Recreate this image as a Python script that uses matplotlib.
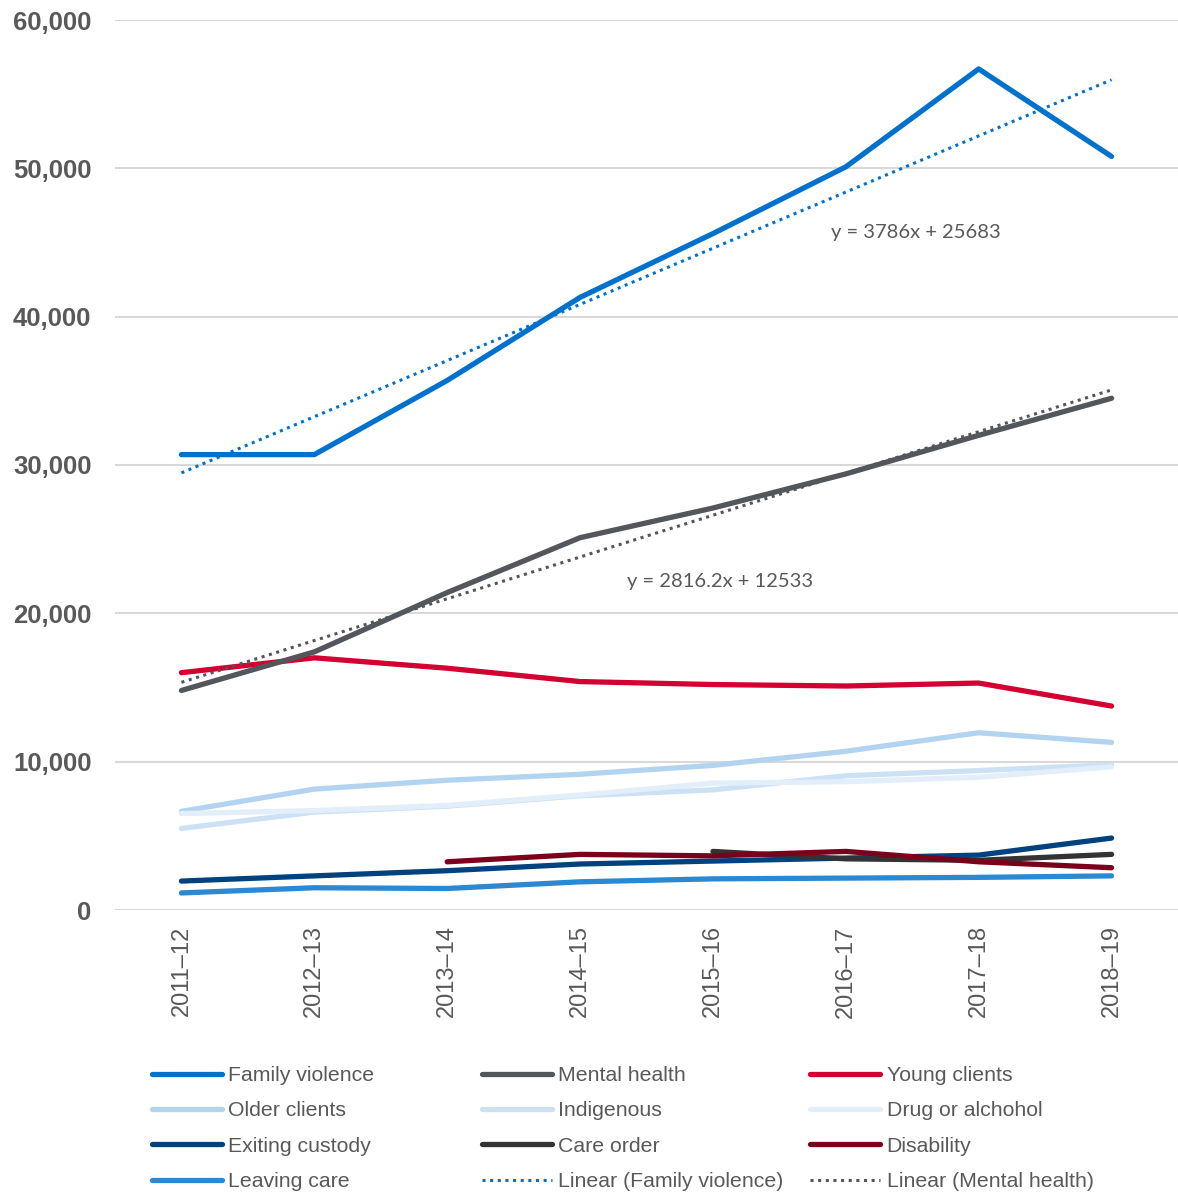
import numpy as np
import matplotlib.pyplot as plt

plt.rcParams['font.family'] = ['Liberation Sans', 'DejaVu Sans']

years = ['2011–12', '2012–13', '2013–14', '2014–15', '2015–16', '2016–17', '2017–18', '2018–19']

family_violence = [30700, 30700, 35700, 41300, 45600, 50100, 56700, 50800]
mental_health = [14800, 17400, 21400, 25100, 27100, 29400, 32000, 34500]
young_clients = [16000, 17000, 16300, 15400, 15200, 15100, 15300, 13750]
older_clients = [6650, 8150, 8750, 9150, 9750, 10700, 11950, 11300]
indigenous = [5500, 6600, 7000, 7700, 8100, 9050, 9400, 9800]
drug_alcohol = [6500, 6700, 7050, 7750, 8550, 8650, 8950, 9650]
exiting_custody = [1950, 2300, 2650, 3100, 3300, 3500, 3700, 4850]
care_order = [None, None, None, None, 3950, 3450, 3350, 3750]
disability = [None, None, 3250, 3750, 3650, 3950, 3250, 2850]
leaving_care = [1150, 1500, 1450, 1900, 2100, 2150, 2200, 2300]

# trend line coefficients as printed on the chart
fv_slope, fv_icept = 3786, 25683
mh_slope, mh_icept = 2816.2, 12533

x = np.arange(1, len(years) + 1)

fig = plt.figure(figsize=(11.78, 11.95), dpi=100)
ax = fig.add_axes([115/1178, (1195-910)/1195, 1063/1178, 890/1195])

def arr(v):
    return np.array([np.nan if a is None else a for a in v], dtype=float)

lw = 3.8
h = {}
h['Older clients'], = ax.plot(x, arr(older_clients), color='#B3D4F0', lw=lw, solid_capstyle='round')
h['Indigenous'], = ax.plot(x, arr(indigenous), color='#CCE1F4', lw=lw, solid_capstyle='round')
h['Drug or alchohol'], = ax.plot(x, arr(drug_alcohol), color='#E2EEF9', lw=lw, solid_capstyle='round')
h['Leaving care'], = ax.plot(x, arr(leaving_care), color='#2B88D2', lw=lw, solid_capstyle='round')
h['Exiting custody'], = ax.plot(x, arr(exiting_custody), color='#00427E', lw=lw, solid_capstyle='round')
h['Care order'], = ax.plot(x, arr(care_order), color='#333333', lw=lw, solid_capstyle='round')
h['Disability'], = ax.plot(x, arr(disability), color='#7B001C', lw=lw, solid_capstyle='round')
h['Young clients'], = ax.plot(x, arr(young_clients), color='#D40032', lw=lw, solid_capstyle='round')
h['Mental health'], = ax.plot(x, arr(mental_health), color='#53565A', lw=lw, solid_capstyle='round')
h['Family violence'], = ax.plot(x, arr(family_violence), color='#0072CE', lw=lw, solid_capstyle='round')

h['Linear (Family violence)'], = ax.plot(x, fv_slope * x + fv_icept, color='#0072CE', lw=2.2,
                                         linestyle=(0, (1, 1.5)))
h['Linear (Mental health)'], = ax.plot(x, mh_slope * x + mh_icept, color='#53565A', lw=2.2,
                                       linestyle=(0, (1, 1.5)))

ax.text(6.53, 45700, 'y = 3786x + 25683', family=['Lato', 'DejaVu Sans'], fontsize=14.5,
        color='#595959', ha='center', va='center')
ax.text(5.05, 22150, 'y = 2816.2x + 12533', family=['Lato', 'DejaVu Sans'], fontsize=14.5,
        color='#595959', ha='center', va='center')

ax.set_xlim(0.5, 8.5)
ax.set_ylim(0, 60000)
ax.set_yticks(range(0, 60001, 10000))
ax.set_yticklabels([f'{v:,}' for v in range(0, 60001, 10000)], fontsize=18.5, fontweight='bold', color='#595959')
ax.set_xticks(x)
ax.set_xticklabels(years, rotation=90, fontsize=17, color='#595959')
ax.tick_params(axis='y', length=0, pad=17)
ax.tick_params(axis='x', length=0, pad=11)
ax.grid(axis='y', color='#D9D9D9', lw=1.5)
ax.set_axisbelow(True)
for s in ax.spines.values():
    s.set_visible(False)

cols = [['Family violence', 'Older clients', 'Exiting custody', 'Leaving care'],
        ['Mental health', 'Indigenous', 'Care order', 'Linear (Family violence)'],
        ['Young clients', 'Drug or alchohol', 'Disability', 'Linear (Mental health)']]
xpos = [152/1178, 482/1178, 810/1178]
for c, xp in zip(cols, xpos):
    fig.legend([h[k] for k in c], c, loc='upper left', bbox_to_anchor=(xp, 1 - 1066/1195),
               frameon=False, fontsize=15.3, handlelength=3.3, handletextpad=0.3,
               labelspacing=0.77, borderaxespad=0, borderpad=0, labelcolor='#595959')

fig.savefig('out.png', dpi=100)
